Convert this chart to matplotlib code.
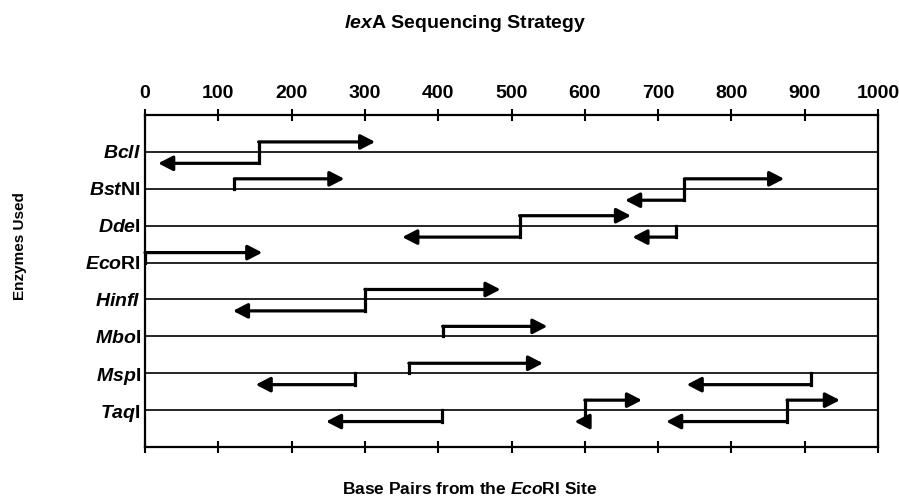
import numpy as np
import matplotlib
matplotlib.use("Agg")
import matplotlib.pyplot as plt

plt.rcParams['font.family'] = ['Liberation Sans', 'DejaVu Sans']
plt.rcParams['font.weight'] = 'bold'
plt.rcParams['mathtext.fontset'] = 'custom'
plt.rcParams['mathtext.it'] = 'Liberation Sans:italic:bold'
plt.rcParams['mathtext.rm'] = 'Liberation Sans:bold'
plt.rcParams['mathtext.bf'] = 'Liberation Sans:bold'

# enzyme rows, top to bottom
enzymes = ['BclI', 'BstNI', 'DdeI', 'EcoRI', 'HinfI', 'MboI', 'MspI', 'TaqI']
enzyme_labels = [r'$\mathit{BclI}$', r'$\mathit{Bst}\mathrm{NI}$', r'$\mathit{Dde}\mathrm{I}$',
                 r'$\mathit{Eco}\mathrm{RI}$', r'$\mathit{HinfI}$', r'$\mathit{Mbo}\mathrm{I}$',
                 r'$\mathit{Msp}\mathrm{I}$', r'$\mathit{Taq}\mathrm{I}$']

# sequencing reads per enzyme: (site, right read end, left read end), bp from EcoRI site
reads = {
    'BclI':  [(155, 314, 18)],
    'BstNI': [(122, 272, None), (736, 872, 655)],
    'DdeI':  [(511, 663, 351), (724, None, 665)],
    'EcoRI': [(0, 160, None)],
    'HinfI': [(300, 485, 120)],
    'MboI':  [(406, 549, None)],
    'MspI':  [(360, 543, None), (287, None, 151), (908, None, 739)],
    'TaqI':  [(405, None, 247), (600, 678, 586), (876, 948, 711)],
}

x_ticks = np.arange(0, 1001, 100)

fig = plt.figure(figsize=(8.99, 4.99), dpi=100)
ax = fig.add_axes([145/899, 1-447/499, (878-145)/899, (447-115)/499])

up = 0.27
down = 0.31
lw = 2.3
arrow_style = '-|>,head_length=0.62,head_width=0.32'

for i, enz in enumerate(enzymes):
    row = i + 1
    for site, r_end, l_end in reads[enz]:
        y_top = row - up if r_end is not None else row
        y_bot = row + down if l_end is not None else row
        ax.plot([site, site], [y_top, y_bot], color='black', lw=lw,
                solid_capstyle='projecting', zorder=3)
        if r_end is not None:
            ax.annotate('', xy=(r_end, row - up), xytext=(site, row - up),
                        arrowprops=dict(arrowstyle=arrow_style, lw=lw, color='black',
                                        shrinkA=0, shrinkB=0, mutation_scale=14),
                        zorder=3)
        if l_end is not None:
            ax.annotate('', xy=(l_end, row + down), xytext=(site, row + down),
                        arrowprops=dict(arrowstyle=arrow_style, lw=lw, color='black',
                                        shrinkA=0, shrinkB=0, mutation_scale=14),
                        zorder=3)

ax.set_xlim(0, 1000)
ax.set_ylim(len(enzymes) + 1, 0)
ax.set_xticks(x_ticks)
ax.set_yticks(np.arange(1, len(enzymes) + 1))
ax.set_yticklabels(enzyme_labels, fontsize=14)
ax.xaxis.set_ticks_position('both')
ax.tick_params(axis='x', labeltop=True, labelbottom=False, direction='inout',
               length=9, width=1.5, labelsize=14, pad=5)
ax.tick_params(axis='y', length=0, pad=3)
ax.grid(axis='y', color='black', lw=1.2)
for s in ax.spines.values():
    s.set_linewidth(1.6)

fig.text(465/899, 1-28/499, r'$\mathit{lex}\mathrm{A}$ Sequencing Strategy',
         ha='center', va='baseline', fontsize=14, fontweight='bold')
fig.text(470/899, 1-494/499, r'Base Pairs from the $\mathit{Eco}\mathrm{RI}$ Site',
         ha='center', va='baseline', fontsize=12.5, fontweight='bold')
fig.text(20/899, 1-246/499, 'Enzymes Used', rotation=90, ha='center', va='center',
         fontsize=11, fontweight='bold')

plt.savefig('out.png', dpi=100)
